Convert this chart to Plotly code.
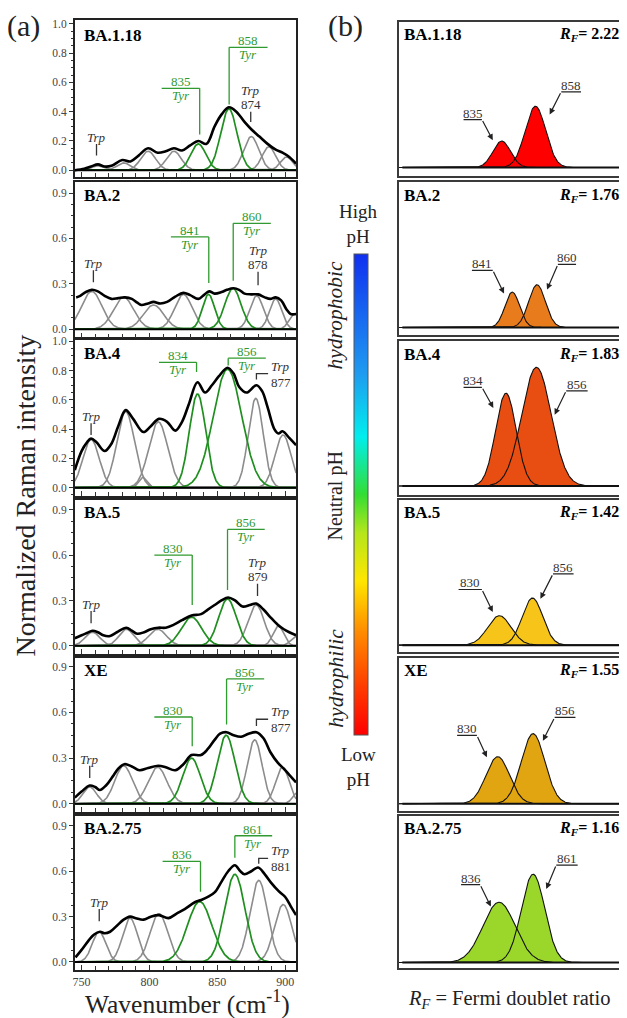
import numpy as np
import plotly.graph_objects as go

# target picture is 627x1018; the page body adds an 8 px margin, so the figure is drawn 8 px smaller
OFF = 8
W, H = 627 - OFF, 1018 - OFF

# ---------------- data ----------------
variants = ["BA.1.18", "BA.2", "BA.4", "BA.5", "XE", "BA.2.75"]
rf_values = ["2.22", "1.76", "1.83", "1.42", "1.55", "1.16"]
tyr_low_labels = ["835", "841", "834", "830", "830", "836"]
tyr_high_labels = ["858", "860", "856", "856", "856", "861"]
trp_labels = ["874", "878", "877", "879", "877", "881"]

spec_x_1 = [745, 752, 757, 762, 767, 772, 780, 786, 792, 799, 806, 812, 818, 824, 830, 836, 842, 848, 853, 858.5, 864, 870, 875, 881, 887, 893, 898, 903, 908]
spec_y_1 = [0.0, 0.01, 0.025, 0.04, 0.025, 0.03, 0.07, 0.06, 0.1, 0.15, 0.12, 0.13, 0.15, 0.135, 0.17, 0.2, 0.18, 0.3, 0.38, 0.43, 0.4, 0.33, 0.28, 0.23, 0.18, 0.14, 0.12, 0.09, 0.045]
spec_x_2 = [746, 749, 753, 757.5, 762, 767, 772, 777, 782, 787, 791, 794, 799, 803, 808, 813, 819, 825, 830, 836, 840, 844, 848, 853, 857, 862, 866, 870, 875, 880, 885, 889, 893, 897, 901, 904, 908]
spec_y_2 = [0.21, 0.22, 0.245, 0.26, 0.25, 0.22, 0.2, 0.205, 0.21, 0.2, 0.175, 0.16, 0.17, 0.18, 0.17, 0.18, 0.215, 0.24, 0.225, 0.2, 0.225, 0.25, 0.235, 0.245, 0.26, 0.27, 0.26, 0.235, 0.23, 0.23, 0.21, 0.2, 0.21, 0.19, 0.13, 0.1, 0.1]
spec_x_3 = [745, 750, 754, 757, 761, 767, 772, 777, 782.5, 788, 795.5, 801, 807, 813, 819, 824, 829, 835.4, 841, 846, 851, 857.5, 862, 866, 871.5, 878.8, 883, 887, 892, 895, 898, 903, 908]
spec_y_3 = [0.12, 0.25, 0.31, 0.335, 0.31, 0.25, 0.3, 0.42, 0.53, 0.47, 0.38, 0.42, 0.47, 0.45, 0.39, 0.45, 0.57, 0.72, 0.65, 0.7, 0.76, 0.82, 0.78, 0.69, 0.65, 0.7, 0.66, 0.55, 0.4, 0.37, 0.385, 0.34, 0.29]
spec_x_4 = [745, 750, 754, 758, 762, 766, 771, 776, 783, 787, 791, 796, 801, 806.5, 812, 818, 824, 831, 838, 843, 848, 853, 858, 863, 868.5, 874, 878.6, 884, 889, 894.5, 899, 903, 908]
spec_y_4 = [0.05, 0.07, 0.085, 0.1, 0.09, 0.07, 0.065, 0.09, 0.12, 0.1, 0.08, 0.09, 0.11, 0.12, 0.12, 0.14, 0.17, 0.2, 0.21, 0.24, 0.27, 0.3, 0.32, 0.3, 0.26, 0.27, 0.28, 0.24, 0.19, 0.14, 0.11, 0.09, 0.07]
spec_x_5 = [745, 750, 756, 760, 763.5, 768, 773, 777, 781.5, 787, 792.7, 799, 806.5, 812, 819, 825, 831, 838, 843, 848, 852, 856.8, 862, 867.6, 873, 878.8, 884, 889, 894.5, 899, 903, 908]
spec_y_5 = [0.04, 0.08, 0.12, 0.11, 0.09, 0.12, 0.18, 0.23, 0.26, 0.245, 0.22, 0.235, 0.25, 0.24, 0.22, 0.26, 0.32, 0.32, 0.36, 0.42, 0.46, 0.47, 0.45, 0.44, 0.46, 0.47, 0.43, 0.34, 0.27, 0.23, 0.19, 0.14]
spec_x_6 = [745.5, 750, 755, 759, 763.5, 767, 771, 776, 781, 785.7, 790, 795.6, 801, 807, 814, 820, 826, 833.4, 838, 843, 848, 853, 858, 862.9, 867, 870, 875, 880, 885, 890, 895, 900, 904, 908]
spec_y_6 = [0.03, 0.08, 0.14, 0.18, 0.2, 0.19, 0.2, 0.24, 0.28, 0.3, 0.29, 0.28, 0.3, 0.31, 0.29, 0.32, 0.35, 0.395, 0.41, 0.43, 0.46, 0.53, 0.6, 0.64, 0.6, 0.58, 0.6, 0.625, 0.58, 0.52, 0.47, 0.43, 0.37, 0.31]
spec_x = [spec_x_1, spec_x_2, spec_x_3, spec_x_4, spec_x_5, spec_x_6]
spec_y = [spec_y_1, spec_y_2, spec_y_3, spec_y_4, spec_y_5, spec_y_6]

# fitted Gaussian bands (centre cm-1, height, sigma)
gray_c = [[762, 781, 799, 818, 875, 888, 901],
          [757.5, 781, 803, 825, 879, 893, 907],
          [757, 782.5, 795, 806.5, 878.3, 898.4],
          [758, 783, 806, 878.6, 895, 908],
          [756, 781, 806, 877.5, 898, 910],
          [762.9, 785.7, 807, 880.5, 898.5]]
gray_h = [[0.03, 0.05, 0.13, 0.13, 0.23, 0.16, 0.09],
          [0.25, 0.21, 0.16, 0.23, 0.22, 0.2, 0.1],
          [0.33, 0.52, 0.07, 0.45, 0.61, 0.36],
          [0.09, 0.11, 0.11, 0.27, 0.13, 0.06],
          [0.11, 0.25, 0.24, 0.42, 0.24, 0.08],
          [0.2, 0.29, 0.32, 0.54, 0.38]]
gray_w = [[4.5, 5, 5.5, 5.5, 5.5, 5, 4.5],
          [7.5, 7.5, 7.5, 6.5, 5, 4.5, 4],
          [6, 6.5, 3, 7, 5.5, 6],
          [5.5, 5.5, 6.5, 6, 4, 4],
          [5, 6.5, 7, 5.5, 5, 4],
          [5, 5.5, 6.5, 6.5, 6.5]]
green_c = [[836, 858.5], [843.5, 861.5], [835.4, 857.5], [831, 857.5], [831, 856.5], [837, 862.9]]
green_h = [[0.18, 0.42], [0.23, 0.27], [0.64, 0.81], [0.19, 0.31], [0.3, 0.45], [0.4, 0.58]]
green_w = [[5.5, 6], [4.5, 6], [6, 10.5], [7.5, 6.5], [6.5, 6.5], [9, 7.5]]

# Fermi doublet bands in panel (b)
doublet_c = [[835, 858], [842.2, 859.1], [837.9, 858.7], [833.4, 856], [832.3, 856.4], [833.2, 856.4]]
doublet_h = [[0.18, 0.416], [0.24, 0.29], [0.63, 0.806], [0.20, 0.32], [0.32, 0.476], [0.41, 0.60]]
doublet_w = [[6, 7], [5, 5.7], [7, 10], [8, 7], [8, 8], [11, 8]]

# ---------------- style / layout ----------------
FONT = "Liberation Serif"
GRAY = "#8c8c8c"
GREEN = "#1f8f1f"
GTXT = "#2f9a2f"
doublet_colors = ["#ff0000", "#e87b1c", "#e84e12", "#f7c51a", "#e2a512", "#9bd62a"]

L_FRAMES = [(15, 173), (178, 334), (337, 493), (497, 652), (656, 811), (815, 970)]
L_ZERO = [166, 325.7, 485, 644, 802.7, 961.7]
L_SCALE = [147, 151.9, 147, 152, 153, 151.9]
L_DTICK = [0.2, 0.3, 0.2, 0.3, 0.3, 0.3]
L_MINOR = [0.05, 0.075, 0.05, 0.075, 0.075, 0.075]
R_FRAMES = [(17, 172), (178, 332), (338, 492), (497, 650), (656, 810), (815, 968)]
R_BASE = [163.3, 324, 483.3, 643.3, 802.7, 962.3]
R_SCALE = 148.0
LX = (73, 295)
RX = (398, 624)
LRANGE = [745, 908]
RRANGE = [764.8, 918.4]

# bracket annotation geometry for panel (a): (text x, line x0, line x1, line y, drop y)
brk_low = [(823, 809, 837, 0.56, 0.245), (829.7, 815.8, 843.7, 0.61, 0.305), (821, 807, 834.7, 0.857, 0.79),
           (817.5, 803.6, 831.5, 0.60, 0.27), (817.5, 803.6, 831.5, 0.57, 0.377), (823.7, 809.7, 837.6, 0.665, 0.465)]
brk_high = [(872.8, 858.7, 887, 0.84, 0.45), (875.5, 861.7, 889.4, 0.70, 0.32), (872, 858, 885.7, 0.885, 0.835),
            (871.2, 857.5, 884.9, 0.77, 0.37), (870.6, 856.8, 884.5, 0.82, 0.52), (876.6, 862.9, 890.4, 0.835, 0.69)]
# Trp (right) markers: ('tick', x, ytop, ybot) or ('bracket', x, ybot, ytop, xend)
trp_right = [("tick", 874.6, 0.40, 0.33), ("tick", 880, 0.38, 0.29), ("bracket", 878.8, 0.74, 0.78, 887.4),
             ("tick", 879.6, 0.41, 0.33), ("bracket", 878.8, 0.51, 0.555, 887.4), ("bracket", 880.5, 0.65, 0.685, 887.4)]
trp_left = [(761, 0.18, 0.10), (758.7, 0.39, 0.31), (757, 0.44, 0.36), (757, 0.23, 0.15), (756, 0.25, 0.17), (763, 0.35, 0.27)]
# arrows for panel (b): (line x0, line x1, line y, head x, head y)
arr_low = [(809.0, 821.5, 0.326, 828.9, 0.186), (814.7, 828.9, 0.388, 836.6, 0.23), (809, 821.5, 0.67, 829.3, 0.53),
           (805.6, 821.5, 0.378, 828.9, 0.225), (804.6, 818.1, 0.464, 824.9, 0.316), (807.3, 820.3, 0.529, 827.6, 0.38)]
arr_high = [(875.6, 889.1, 0.514, 867.7, 0.36), (873.3, 885.7, 0.428, 865.9, 0.257), (879, 893.6, 0.646, 871.1, 0.484),
            (870, 884, 0.484, 861.4, 0.315), (871.1, 885.3, 0.586, 863.1, 0.428), (872.2, 886.8, 0.662, 865.4, 0.5)]


def gauss(x, c, h, w):
    return h * np.exp(-0.5 * ((x - c) / w) ** 2)


def px(xp, yp):
    return (xp - OFF) / W, 1 - (yp - OFF) / H


def xdom(a, b):
    return [(a - OFF) / W, (b - OFF) / W]


def ydom(top, bot):
    return [1 - (bot - OFF) / H, 1 - (top - OFF) / H]


def sfx(n):
    return "" if n == 1 else str(n)


fig = go.Figure()
layout = {}
annotations = []
shapes = []

xl = np.linspace(LRANGE[0], LRANGE[1], 600)
xr = np.linspace(RRANGE[0], RRANGE[1], 600)

for i in range(6):
    n = i + 1
    xa, ya = f"x{sfx(n)}", f"y{sfx(n)}"
    for c, h, w in zip(gray_c[i], gray_h[i], gray_w[i]):
        fig.add_trace(go.Scatter(x=xl, y=gauss(xl, c, h, w), mode="lines", line=dict(color=GRAY, width=1.6),
                                 xaxis=xa, yaxis=ya, showlegend=False, hoverinfo="skip"))
    for c, h, w in zip(green_c[i], green_h[i], green_w[i]):
        fig.add_trace(go.Scatter(x=xl, y=gauss(xl, c, h, w), mode="lines", line=dict(color=GREEN, width=1.7),
                                 xaxis=xa, yaxis=ya, showlegend=False, hoverinfo="skip"))
    fig.add_trace(go.Scatter(x=spec_x[i], y=spec_y[i], mode="lines",
                             line=dict(color="black", width=2.6, shape="spline", smoothing=1.0),
                             xaxis=xa, yaxis=ya, showlegend=False))
    ft, fb = L_FRAMES[i]
    yr = [-(fb - L_ZERO[i]) / L_SCALE[i], (L_ZERO[i] - ft) / L_SCALE[i]]
    layout[f"xaxis{sfx(n)}"] = dict(
        domain=xdom(*LX), range=LRANGE, anchor=ya, showline=True, mirror=True,
        linecolor="#222", linewidth=1.5, ticks="inside", ticklen=5, tickwidth=1, tickcolor="#333",
        dtick=50, tick0=750, minor=dict(dtick=10, ticks="inside", ticklen=4, tickcolor="#333"),
        showticklabels=(i == 5), showgrid=False, zeroline=False,
        tickfont=dict(family=FONT, size=12, color="#444"))
    layout[f"yaxis{sfx(n)}"] = dict(
        domain=ydom(ft, fb), range=yr, anchor=xa, showline=True, mirror=True,
        linecolor="#222", linewidth=1.5, ticks="outside", ticklen=4, tickcolor="#333",
        dtick=L_DTICK[i], tick0=0, tickformat=".1f",
        minor=dict(dtick=L_MINOR[i], ticks="outside", ticklen=2, tickcolor="#333"),
        showgrid=False, zeroline=False,
        tickfont=dict(family=FONT, size=11.5, color="#444"))
    # zero baseline drawn above the bands
    shapes.append(dict(type="line", xref=f"{xa} domain", yref=ya, x0=0, x1=1, y0=0, y1=0,
                       line=dict(color="black", width=2)))
    lx, ly = px(80, ft + (16 if i == 0 else 13))
    annotations.append(dict(x=lx, y=ly, xref="paper", yref="paper", text=f"<b>{variants[i]}</b>",
                            showarrow=False, xanchor="left", yanchor="middle",
                            font=dict(family=FONT, size=17, color="black")))
    for k, (b, lab) in enumerate([(brk_low[i], tyr_low_labels[i]), (brk_high[i], tyr_high_labels[i])]):
        tx, x0, x1, yy, yd = b
        xv = x1 if k == 0 else x0
        shapes.append(dict(type="line", xref=xa, yref=ya, x0=x0, x1=x1, y0=yy, y1=yy,
                           line=dict(color=GTXT, width=1.3)))
        shapes.append(dict(type="line", xref=xa, yref=ya, x0=xv, x1=xv, y0=yy, y1=yd,
                           line=dict(color=GTXT, width=1.3)))
        annotations.append(dict(x=tx, y=yy, xref=xa, yref=ya, text=lab, showarrow=False,
                                xanchor="center", yanchor="bottom", yshift=-3,
                                font=dict(family=FONT, size=13, color=GTXT)))
        annotations.append(dict(x=tx, y=yy, xref=xa, yref=ya, text="<i>Tyr</i>", showarrow=False,
                                xanchor="center", yanchor="top", yshift=2,
                                font=dict(family=FONT, size=13, color=GTXT)))
    t = trp_right[i]
    if t[0] == "tick":
        _, tx, yt, yb = t
        shapes.append(dict(type="line", xref=xa, yref=ya, x0=tx, x1=tx, y0=yt, y1=yb,
                           line=dict(color="#333", width=1.3)))
        annotations.append(dict(x=tx, y=yt, xref=xa, yref=ya, text=trp_labels[i], showarrow=False,
                                xanchor="center", yanchor="bottom", yshift=-2,
                                font=dict(family=FONT, size=13, color="#333")))
        annotations.append(dict(x=tx, y=yt, xref=xa, yref=ya, text="<i>Trp</i>", showarrow=False,
                                xanchor="center", yanchor="bottom", yshift=12,
                                font=dict(family=FONT, size=13, color="#333")))
    else:
        _, tx, yb, yt, xe = t
        shapes.append(dict(type="path", xref=xa, yref=ya,
                           path=f"M {tx},{yb} L {tx},{yt} L {xe},{yt}",
                           line=dict(color="#333", width=1.3)))
        annotations.append(dict(x=xe, y=yt, xref=xa, yref=ya, text="<i>Trp</i>", showarrow=False,
                                xanchor="left", xshift=1, yanchor="bottom", yshift=-2,
                                font=dict(family=FONT, size=13, color="#333")))
        annotations.append(dict(x=xe, y=yt, xref=xa, yref=ya, text=trp_labels[i], showarrow=False,
                                xanchor="left", xshift=1, yanchor="top", yshift=1,
                                font=dict(family=FONT, size=13, color="#333")))
    tx, yt, yb = trp_left[i]
    shapes.append(dict(type="line", xref=xa, yref=ya, x0=tx, x1=tx, y0=yt, y1=yb,
                       line=dict(color="#333", width=1.3)))
    annotations.append(dict(x=tx, y=yt, xref=xa, yref=ya, text="<i>Trp</i>", showarrow=False,
                            xanchor="center", yanchor="bottom", yshift=-3,
                            font=dict(family=FONT, size=13, color="#333")))

# ---------------- panel (b) ----------------
for i in range(6):
    n = i + 7
    xa, ya = f"x{n}", f"y{n}"
    for c, h, w in zip(doublet_c[i], doublet_h[i], doublet_w[i]):
        fig.add_trace(go.Scatter(x=xr, y=gauss(xr, c, h, w), mode="lines", fill="tozeroy",
                                 fillcolor=doublet_colors[i], line=dict(width=0, color=doublet_colors[i]),
                                 xaxis=xa, yaxis=ya, showlegend=False, hoverinfo="skip"))
    for c, h, w in zip(doublet_c[i], doublet_h[i], doublet_w[i]):
        fig.add_trace(go.Scatter(x=xr, y=gauss(xr, c, h, w), mode="lines", line=dict(width=1.1, color="#111"),
                                 xaxis=xa, yaxis=ya, showlegend=False, hoverinfo="skip"))
    ft, fb = R_FRAMES[i]
    yr = [-(fb - R_BASE[i]) / R_SCALE, (R_BASE[i] - ft) / R_SCALE]
    layout[f"xaxis{n}"] = dict(domain=xdom(*RX), range=RRANGE, anchor=ya, showline=True,
                               mirror=True, linecolor="#3a3a3a", linewidth=2, ticks="", showticklabels=False,
                               showgrid=False, zeroline=False)
    layout[f"yaxis{n}"] = dict(domain=ydom(ft, fb), range=yr, anchor=xa, showline=True,
                               mirror=True, linecolor="#3a3a3a", linewidth=2, ticks="", showticklabels=False,
                               showgrid=False, zeroline=False)
    shapes.append(dict(type="line", xref=f"{xa} domain", yref=ya, x0=0.016, x1=0.984, y0=0, y1=0,
                       line=dict(color="#111", width=2)))
    lx, ly = px(401, ft + 13)
    annotations.append(dict(x=lx, y=ly, xref="paper", yref="paper", text=f"<b>{variants[i]}</b>",
                            showarrow=False, xanchor="left", yanchor="middle",
                            font=dict(family=FONT, size=17, color="black")))
    rx, ry = px(621, ft + 13)
    annotations.append(dict(x=rx, y=ry, xref="paper", yref="paper",
                            text=f"<b><i>R</i><sub><i>F</i></sub>= {rf_values[i]}</b>",
                            showarrow=False, xanchor="right", yanchor="middle",
                            font=dict(family=FONT, size=16, color="black")))
    for k, (a, lab) in enumerate([(arr_low[i], tyr_low_labels[i]), (arr_high[i], tyr_high_labels[i])]):
        x0, x1, yy, hx, hy = a
        tail = x1 if k == 0 else x0
        shapes.append(dict(type="line", xref=xa, yref=ya, x0=x0, x1=x1, y0=yy, y1=yy,
                           line=dict(color="#222", width=1.2)))
        annotations.append(dict(x=(x0 + x1) / 2, y=yy, xref=xa, yref=ya, text=lab, showarrow=False,
                                xanchor="center", yanchor="bottom", yshift=-3,
                                font=dict(family=FONT, size=13, color="#333")))
        annotations.append(dict(x=hx, y=hy, ax=tail, ay=yy, xref=xa, yref=ya, axref=xa, ayref=ya,
                                text="", showarrow=True, arrowhead=2, arrowsize=1, arrowwidth=1.2,
                                arrowcolor="#222"))

# colour bar
colorscale = [[0.0, "#ff0000"], [0.1, "#ff3c00"], [0.215, "#ff8c00"], [0.32, "#ffe600"],
              [0.42, "#b5e61c"], [0.5, "#33dd33"], [0.62, "#00eeee"], [0.75, "#1e9cf0"], [1.0, "#1030f0"]]
cb_top, cb_bot = 250.7, 734.0
cbx, cby = px(353.3, (cb_top + cb_bot) / 2)
fig.add_trace(go.Scatter(x=[800], y=[-5], mode="markers", xaxis="x7", yaxis="y7", showlegend=False,
                         hoverinfo="skip",
                         marker=dict(color=[0.5], cmin=0, cmax=1, colorscale=colorscale, showscale=True,
                                     colorbar=dict(x=cbx, xanchor="left", y=cby,
                                                   yanchor="middle", len=(cb_bot - cb_top) / H, lenmode="fraction",
                                                   thickness=14, thicknessmode="pixels", outlinewidth=1,
                                                   outlinecolor="#555", tickvals=[], showticklabels=False,
                                                   ticks="", xpad=0, ypad=0, borderwidth=0))))


def add_text(xp, yp, text, size, angle=0, **kw):
    x, y = px(xp, yp)
    d = dict(x=x, y=y, xref="paper", yref="paper", text=text, showarrow=False, textangle=angle,
             xanchor="center", yanchor="middle", font=dict(family=FONT, size=size, color="#222"))
    d.update(kw)
    annotations.append(d)


add_text(22, 21, "(a)", 30)
add_text(345, 21, "(b)", 30)
add_text(24, 493, "Normalized Raman intensity", 28, angle=-90)
add_text(186, 1002, "Wavenumber (cm<sup>-1</sup>)", 25.5)
add_text(358, 220, "High<br>pH", 19)
add_text(358, 766, "Low<br>pH", 19)
add_text(335, 312, "<i>hydrophobic</i>", 21.5, angle=-90)
add_text(335, 493, "Neutral pH", 20, angle=-90)
add_text(335, 676, "<i>hydrophilic</i>", 21.5, angle=-90)
add_text(509, 999, "<i>R</i><sub><i>F</i></sub> = Fermi doublet ratio", 20.5)

layout.update(dict(width=W, height=H, margin=dict(l=0, r=0, t=0, b=0), paper_bgcolor="white",
                   plot_bgcolor="white", showlegend=False, annotations=annotations, shapes=shapes,
                   font=dict(family=FONT)))
fig.update_layout(**layout)
fig.write_html("out.html")
